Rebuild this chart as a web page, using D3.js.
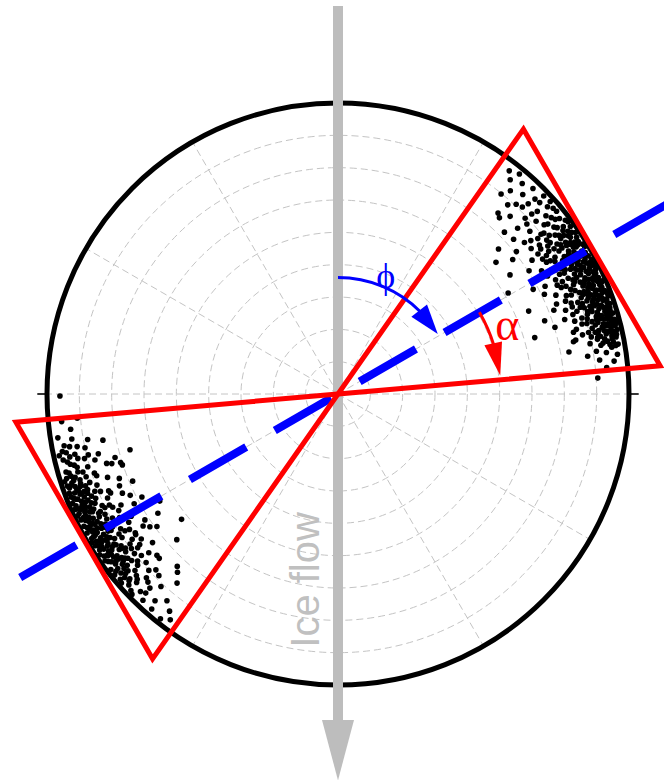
<!DOCTYPE html>
<html>
<head>
<meta charset="utf-8">
<script src="https://cdn.jsdelivr.net/npm/d3@7"></script>
<style>
  html, body { margin: 0; padding: 0; background: #fff; }
  svg { display: block; }
</style>
</head>
<body>
<script>
// ---- values -------------------------------------------------------------
// inclination rings (degrees from centre, 90 = rim) and azimuth spokes
const ringValues = [10, 20, 30, 40, 50, 60, 70, 80];
const rimValue = 90;
const spokeAzimuths = [0, 30, 60, 90, 120, 150, 180, 210, 240, 270, 300, 330];
const rimTickAzimuths = [90, 270];

// mean orientation (phi, clockwise from ice flow / north) and half opening of the wedge (alpha)
const phi = 60;
const alpha = 25;
const wedgeReach = 100;
const phiArcRadius = 36;
const alphaArcRadius = 50.5;

// measured axes, [azimuth, inclination] : north-east lobe
const lobeNE = [
  [37.5,87],[38.8,85],[39.5,88.2],[41.2,86.5],[40.3,82.4],[42.8,84.1],[43.5,87.6],[41.9,78.6],[44.6,81.2],
  [45.3,85.7],[39.2,79.8],[46.1,88.3],[44.1,76.5],[42.5,73.9],[46.8,79.4],[47.5,83.6],[41.5,74.7],[45.8,71.8],
  [48.2,86.9],[48.9,81.3],[49.4,84.7],[50.1,88.1],[47.3,75.6],[49.7,77.8],[50.6,82.5],[51.2,86.2],[51.8,79.9],
  [48.6,72.4],[50.9,74.3],[52.3,84.4],[52.6,88.5],[51.4,70.6],[53.1,81.7],
  [53.4,86.8],[53.8,83.2],[54.2,88.6],[54.5,80.6],[54.9,85.3],[55.3,87.9],[55.6,82.1],[55.9,78.7],[56.3,84.6],
  [56.7,88.3],[57.1,81.4],[57.4,86.1],[57.8,79.3],[58.2,83.9],[58.5,88.7],[58.9,85.2],[59.3,80.8],[59.6,87.4],
  [60.0,82.9],[60.4,86.3],[60.7,79.1],[61.1,88.4],[61.5,84.2],[61.8,81.6],[62.2,86.9],[62.6,83.3],[62.9,88.8],
  [63.3,79.7],[63.7,85.6],[64.0,82.1],[64.4,87.5],[64.8,84.4],[65.1,80.3],[65.5,86.6],[65.9,88.2],[66.2,82.8],
  [66.6,85.1],[67.0,78.4],[67.3,87.7],[67.7,83.6],[68.1,86.1],[68.4,80.9],[68.8,88.5],[69.2,84.7],[69.5,82.2],
  [69.9,86.8],[70.3,79.6],[70.6,88.1],[71.0,83.9],[71.4,85.9],[71.7,81.3],[72.1,87.2],[72.5,84.1],[72.8,86.4],
  [73.2,80.5],[73.6,88.6],[73.9,83.2],[74.3,85.7],[74.7,87.9],[75.0,82.4],[75.4,86.2],[75.8,84.3],[76.1,88.3],
  [76.5,81.8],[76.9,85.5],[77.2,87.4],[77.6,83.1],
  [52.8,85.1],[53.6,80.2],[54.7,87.1],[55.1,84.0],[56.0,86.7],[56.9,82.7],[57.6,88.0],[58.0,85.8],[58.7,81.9],
  [59.5,84.5],[60.2,88.1],[60.9,85.0],[61.3,80.1],[62.0,84.8],[62.4,88.0],[63.1,82.0],[63.5,86.9],[64.2,88.5],
  [64.6,81.0],[65.3,84.0],[65.7,87.0],[66.4,80.0],[66.8,88.9],[67.5,85.2],[67.9,81.8],[68.6,84.0],[69.0,87.6],
  [69.7,80.6],[70.1,85.4],[70.8,82.5],[71.2,87.9],[71.9,84.9],[72.3,81.0],[73.0,88.0],[73.4,85.0],[74.1,81.7],
  [74.5,86.9],[75.2,84.9],[75.6,88.7],[76.3,83.0],[76.7,86.8],[77.4,85.0],[77.9,88.1],[78.3,84.2],[78.6,86.5],
  [53.2,88.9],[54.0,86.0],[55.8,88.8],[57.3,87.0],[58.3,86.6],[59.1,88.9],[60.5,87.2],[61.7,86.2],[62.8,87.4],
  [63.9,88.9],[65.0,87.6],[66.0,86.4],[67.1,88.4],[68.3,87.3],[69.4,88.9],[70.5,86.9],[71.6,88.6],[72.6,87.0],
  [73.7,86.6],[74.9,88.6],[76.0,87.3],[77.0,88.6],[78.0,86.6],
  [51.5,76.2],[53.0,74.8],[54.4,77.1],[55.4,72.9],[56.6,75.8],[57.9,77.5],[58.8,73.6],[59.8,76.4],[60.6,74.4],
  [61.6,77.9],[62.5,72.2],[63.6,75.7],[64.7,78.0],[65.6,74.0],[66.7,76.9],[67.6,73.1],[68.7,77.4],[69.8,75.0],
  [70.9,78.2],[71.8,73.8],[72.9,76.6],[74.0,78.5],[75.3,75.3],[76.4,77.8],[77.5,74.6],[78.7,79.5],[79.5,82.7],
  [80.3,85.9],[79.9,88.0],[81.2,84.0],[81.9,87.3],
  [55.3,64.7],[59.3,61.2],[66.5,64.3],[74.0,63.3],[77.2,75.4],[61.8,68.5],[57.2,70.3],[64.2,70.9],[70.5,67.8],
  [52.4,68.2],[68.8,71.6],[72.9,70.2],[79.7,72.6],[81.4,78.1],[82.6,81.6],[83.2,86.0],[84.4,83.5],[86.5,80.5],
  [47.9,66.9],[50.2,63.6],
  [50.4,85.6],[51.0,83.5],[51.6,87.4],[52.0,80.8],[52.1,78.3],[53.5,77.5],[54.8,79.4],[55.0,75.5],[56.1,80.5],
  [56.4,77.4],[57.0,84.3],[57.7,76.3],[58.6,78.6],[59.0,83.0],[59.9,79.0],[60.3,77.2],[61.0,82.5],[61.9,79.3],
  [62.3,76.0],[63.0,84.2],[63.4,77.6],[64.1,80.8],[64.5,76.5],[65.2,82.5],[65.8,78.9],[66.3,84.7],[67.2,81.0],
  [67.8,76.0],[68.2,83.1],[69.1,79.4],[69.6,77.3],[70.2,83.7],[70.7,80.7],[71.3,76.7],[72.0,82.6],[72.7,79.0],
  [73.3,83.4],[74.2,80.0],[74.8,76.4],[75.5,81.2],[76.2,79.8],[76.8,82.6],[77.3,80.3],[78.1,82.0],[78.9,84.9],
  [79.3,86.7],[80.6,81.0],[45.0,83.2],[46.5,86.0],[47.1,81.8],[43.2,80.5],[48.0,78.6],[49.2,87.9],[47.8,88.6],
  [54.3,84.1],[55.5,86.4],[56.2,82.9],[57.2,85.5],[58.1,87.4],[58.8,83.4],[59.7,85.9],[60.6,83.8],[61.4,87.0],
  [62.1,82.9],[62.7,85.5],[63.2,87.9],[63.8,83.6],[64.3,86.0],[64.9,88.0],[65.4,85.3],[65.9,83.2],[66.5,87.5],
  [67.0,85.8],[67.4,82.4],[68.0,88.0],[68.5,85.6],[69.0,82.9],[69.3,86.1],[69.8,84.0],[70.4,87.4],[70.9,84.8],
  [71.5,82.6],[71.9,86.4],[72.4,88.2],[72.9,83.9],[73.5,86.8],[74.0,84.7],[74.6,83.4],[75.1,87.6],[75.7,85.6],
  [76.6,84.6],[77.1,86.2],[77.7,82.2],[78.4,87.8],[79.1,83.5],[79.7,85.5],[80.1,87.2],[56.9,85.8],[59.9,86.7],
  [62.0,88.8],[66.9,84.0],[70.0,88.9],[73.9,87.6],[75.9,86.5]
];

// measured axes, [azimuth, inclination] : south-west lobe
const lobeSW = [
  [269.6,86.0],[264.3,85.9],[261.1,87.7],[264.7,81.0],[255.0,66.6],[262.5,83.4],[259.3,86.2],[258.6,82.3],
  [259.7,78.7],[258.2,87.1],[257.1,83.5],[256.1,82.9],[254.8,77.9],[253.3,74.7],[254.1,71.7],[251.8,70.2],
  [228.4,86.1],[229.0,83.2],[229.6,88.4],[230.2,80.7],[230.8,85.4],[231.4,87.9],[232.0,82.5],[232.6,86.6],
  [233.2,79.8],[233.8,84.7],[234.4,88.6],[235.0,81.9],[235.6,86.0],[236.2,83.4],[236.8,88.1],[237.4,80.4],
  [238.0,85.2],[238.6,87.5],[239.2,82.8],[239.8,86.9],[240.4,84.1],[241.0,88.7],[241.6,81.3],[242.2,85.8],
  [242.8,83.0],[243.4,87.3],[244.0,80.2],[244.6,85.0],[245.2,88.2],[245.8,82.4],[246.4,86.4],[247.0,84.0],
  [247.6,88.8],[248.2,81.0],[248.8,85.6],[249.4,87.0],[250.0,83.1],[250.6,86.2],[251.2,88.4],[251.8,82.0],
  [252.4,85.3],
  [228.9,88.9],[229.9,84.9],[230.5,87.0],[231.1,82.0],[231.7,85.0],[232.3,88.8],[232.9,83.9],[233.5,87.2],
  [234.1,81.2],[234.7,85.9],[235.3,88.0],[235.9,84.3],[236.5,86.9],[237.1,82.3],[237.7,87.8],[238.3,84.0],
  [238.9,88.9],[239.5,80.9],[240.1,85.9],[240.7,87.1],[241.3,83.6],[241.9,86.9],[242.5,88.6],[243.1,84.9],
  [243.7,82.0],[244.3,86.7],[244.9,88.9],[245.5,84.4],[246.1,87.6],[246.7,81.6],[247.3,86.0],[247.9,84.7],
  [248.5,87.9],[249.1,82.9],[249.7,88.6],[250.3,84.6],[251.5,86.8],[252.7,87.9],[253.3,84.0],[226.9,85.3],
  [227.6,87.6],[226.2,82.1],
  [229.3,87.0],[231.0,88.9],[233.0,86.0],[234.9,87.0],[236.0,88.9],[237.9,86.3],[239.6,88.3],[240.9,86.5],
  [242.0,87.9],[243.9,88.5],[245.0,86.4],[246.9,88.1],[248.0,86.8],[249.9,86.0],[251.0,87.6],[252.2,88.8],
  [235.4,85.0],[238.8,85.8],[244.4,84.2],
  [226.0,78.3],[227.4,75.1],[228.7,79.0],[230.0,76.4],[231.3,73.5],[232.5,78.1],[233.6,75.6],[234.8,77.9],
  [235.9,72.8],[237.0,76.9],[238.2,79.1],[239.4,74.3],[240.5,77.6],[241.7,71.6],[242.9,75.4],[244.1,78.6],
  [245.3,73.4],[246.5,76.7],[247.7,79.4],[248.9,72.5],[250.1,75.8],[251.3,78.8],[252.5,70.5],[253.8,80.6],
  [256.0,76.4],[258.9,74.1],[252.9,73.2],[257.5,88.3],
  [216.6,87.0],[219.6,83.0],[220.4,76.8],[218.3,88.6],[221.5,85.4],[222.6,80.9],[223.4,87.8],[224.1,83.6],
  [225.0,86.4],[224.6,78.9],[222.0,74.2],[225.8,88.9],[217.8,85.0],[220.9,88.0],[223.0,72.9],[228.3,75.0],
  [231.3,62.0],[242.3,68.5],[236.5,66.8],[247.0,69.0],[233.8,69.4],[239.0,64.3],[227.9,67.2],
  [229.5,81.5],[230.6,78.7],[231.9,80.0],[232.8,77.0],[233.4,81.8],[234.2,79.3],[235.2,76.2],[236.4,80.2],
  [237.3,78.3],[237.8,83.3],[238.5,75.9],[239.0,81.9],[239.9,77.9],[240.8,82.4],[241.2,79.6],[242.0,76.8],
  [242.7,81.1],[243.3,78.0],[244.7,80.7],[245.7,78.2],[246.2,83.4],[247.1,77.0],[248.4,83.3],[249.3,79.7],
  [250.4,81.5],[251.6,84.1],[252.0,79.2],[253.6,86.7],[254.3,83.8],[255.3,85.6],[256.5,87.4],[255.7,80.9],
  [227.0,80.0],[228.0,83.9],[226.5,88.3],[225.3,82.7],[224.0,85.6],[232.1,84.2],[234.6,83.0],[236.9,84.9],
  [240.2,83.0],[243.6,85.9],[246.0,85.6],[248.7,85.0],[250.8,84.3],
  [247.2,73.3],[244.0,71.5],[236.9,71.3],[234.8,71.2],[235.6,76.0],
  [229.8,86.0],[230.9,84.0],[231.6,86.9],[232.4,83.2],[233.1,85.0],[233.9,87.9],[234.5,82.2],[235.1,86.9],
  [235.8,83.0],[236.6,85.5],[237.2,87.0],[237.6,84.6],[238.4,86.8],[239.1,84.5],[239.7,87.6],[240.3,82.2],
  [240.9,85.2],[241.5,87.6],[242.1,84.3],[242.9,86.5],[243.5,82.7],[244.1,87.5],[244.8,83.5],[245.4,86.0],
  [246.3,88.8],[246.8,85.0],[247.5,82.5],[248.1,87.3],[249.0,84.2],[249.6,85.7],[250.7,88.0],[251.9,86.0],
  [253.0,82.5],[254.0,87.5],[254.9,84.5],[255.9,86.3],[256.8,85.2],[257.8,86.0],[258.9,84.6],[260.4,83.5],
  [256.3,79.5],[258.0,80.0],[227.3,84.5],[228.2,86.7],[234.0,85.8],[238.0,88.6],[241.8,85.3],[245.9,87.2],
  [248.9,88.5],[252.9,86.4]
];

// ---- layout -------------------------------------------------------------
const W = 664, H = 780;
const cx = 338, cy = 394;

const r = d3.scaleLinear().domain([0, rimValue]).range([0, 291]);
const ang = d3.scaleLinear().domain([0, 360]).range([0, 2 * Math.PI]);

// azimuth clockwise from up, inclination outward from the centre
function pt(az, inc) {
  const a = ang(az), d = r(inc);
  return [cx + d * Math.sin(a), cy - d * Math.cos(a)];
}

const svg = d3.select("body").append("svg")
  .attr("width", W).attr("height", H)
  .attr("viewBox", `0 0 ${W} ${H}`);

// ---- grid ---------------------------------------------------------------
const grid = svg.append("g")
  .attr("fill", "none")
  .attr("stroke", "#c4c4c4")
  .attr("stroke-width", 1)
  .attr("stroke-dasharray", "7,4");

grid.selectAll("circle.ring").data(ringValues).join("circle")
  .attr("class", "ring")
  .attr("cx", cx).attr("cy", cy)
  .attr("r", d => r(d));

grid.selectAll("line.spoke").data(spokeAzimuths).join("line")
  .attr("class", "spoke")
  .attr("x1", cx).attr("y1", cy)
  .attr("x2", d => pt(d, rimValue)[0])
  .attr("y2", d => pt(d, rimValue)[1]);

// rim
svg.append("circle")
  .attr("cx", cx).attr("cy", cy).attr("r", r(rimValue))
  .attr("fill", "none").attr("stroke", "#000").attr("stroke-width", 5);

svg.selectAll("line.rimtick").data(rimTickAzimuths).join("line")
  .attr("class", "rimtick")
  .attr("x1", d => pt(d, rimValue)[0]).attr("y1", d => pt(d, rimValue)[1])
  .attr("x2", d => pt(d, rimValue + 3)[0]).attr("y2", d => pt(d, rimValue + 3)[1])
  .attr("stroke", "#000").attr("stroke-width", 1.6);

// ---- ice flow arrow -----------------------------------------------------
const flowTop = pt(0, 120), flowHeadBase = pt(180, 100.8), flowTip = pt(180, 119.5);
svg.append("line")
  .attr("x1", flowTop[0]).attr("y1", flowTop[1])
  .attr("x2", flowHeadBase[0]).attr("y2", flowHeadBase[1] + 1)
  .attr("stroke", "#bdbdbd").attr("stroke-width", 10);
svg.append("path")
  .attr("d", `M${flowHeadBase[0] - 16},${flowHeadBase[1]} L${flowHeadBase[0] + 16},${flowHeadBase[1]} L${flowTip[0]},${flowTip[1]} Z`)
  .attr("fill", "#bdbdbd");

const labelAt = pt(180, 57.5);
svg.append("text")
  .attr("transform", `translate(${labelAt[0] - 19},${labelAt[1]}) rotate(-90)`)
  .attr("text-anchor", "middle")
  .attr("font-family", "'Liberation Sans', Arial, sans-serif")
  .attr("font-size", 40)
  .attr("fill", "#c0c0c0")
  .text("Ice flow");

// ---- measurements -------------------------------------------------------
const dots = svg.append("g").attr("fill", "#000");
dots.selectAll("circle").data(lobeNE.concat(lobeSW)).join("circle")
  .attr("cx", d => pt(d[0], d[1])[0])
  .attr("cy", d => pt(d[0], d[1])[1])
  .attr("r", 2.8);

// ---- mean orientation (blue dashed) ------------------------------------
const meanA = pt(phi + 180, 113.5), meanB = pt(phi, 125);
svg.append("line")
  .attr("x1", meanA[0]).attr("y1", meanA[1])
  .attr("x2", meanB[0]).attr("y2", meanB[1])
  .attr("stroke", "#0000ff").attr("stroke-width", 8)
  .attr("stroke-dasharray", "65,33");

// ---- wedges (red) ------------------------------------------------------
const wedges = [phi, phi + 180].map(c => [pt(0, 0), pt(c - alpha, wedgeReach), pt(c + alpha, wedgeReach)]);
svg.selectAll("path.wedge").data(wedges).join("path")
  .attr("class", "wedge")
  .attr("d", d => d3.line()(d) + "Z")
  .attr("fill", "none").attr("stroke", "#ff0000").attr("stroke-width", 5)
  .attr("stroke-linejoin", "miter").attr("stroke-miterlimit", 10);

// ---- angle arcs with arrowheads ----------------------------------------
function arcArrow(radius, az0, azTip, headLen, headW, color) {
  const rp = r(radius);
  const azBase = azTip - (headLen / rp) * 180 / Math.PI;
  const arc = d3.arc()
    .innerRadius(rp).outerRadius(rp)
    .startAngle(ang(az0)).endAngle(ang(azBase + 0.8));
  svg.append("path")
    .attr("transform", `translate(${cx},${cy})`)
    .attr("d", arc())
    .attr("fill", "none").attr("stroke", color).attr("stroke-width", 3);
  const T = pt(azTip, radius), B = pt(azBase, radius);
  const dx = T[0] - B[0], dy = T[1] - B[1], L = Math.hypot(dx, dy);
  const px = -dy / L * headW / 2, py = dx / L * headW / 2;
  svg.append("path")
    .attr("d", `M${T[0]},${T[1]} L${B[0] + px},${B[1] + py} L${B[0] - px},${B[1] - py} Z`)
    .attr("fill", color);
}

arcArrow(phiArcRadius, 0, phi - 1, 30, 20, "#0000ff");
arcArrow(alphaArcRadius, phi, phi + alpha - 1.5, 33, 18, "#ff0000");

const phiLabel = pt(22, 39.5);
svg.append("text")
  .attr("x", phiLabel[0]).attr("y", phiLabel[1])
  .attr("dy", "0.35em")
  .attr("text-anchor", "middle")
  .attr("font-family", "'Liberation Serif', 'DejaVu Serif', serif")
  .attr("font-size", 36)
  .attr("fill", "#0000ff")
  .text("ϕ");

const alphaLabel = pt(68.1, 56.4);
svg.append("text")
  .attr("x", alphaLabel[0]).attr("y", alphaLabel[1])
  .attr("dy", "0.3em")
  .attr("text-anchor", "middle")
  .attr("font-family", "'Liberation Serif', 'DejaVu Serif', serif")
  .attr("font-size", 46)
  .attr("fill", "#ff0000")
  .text("α");
</script>
</body>
</html>
